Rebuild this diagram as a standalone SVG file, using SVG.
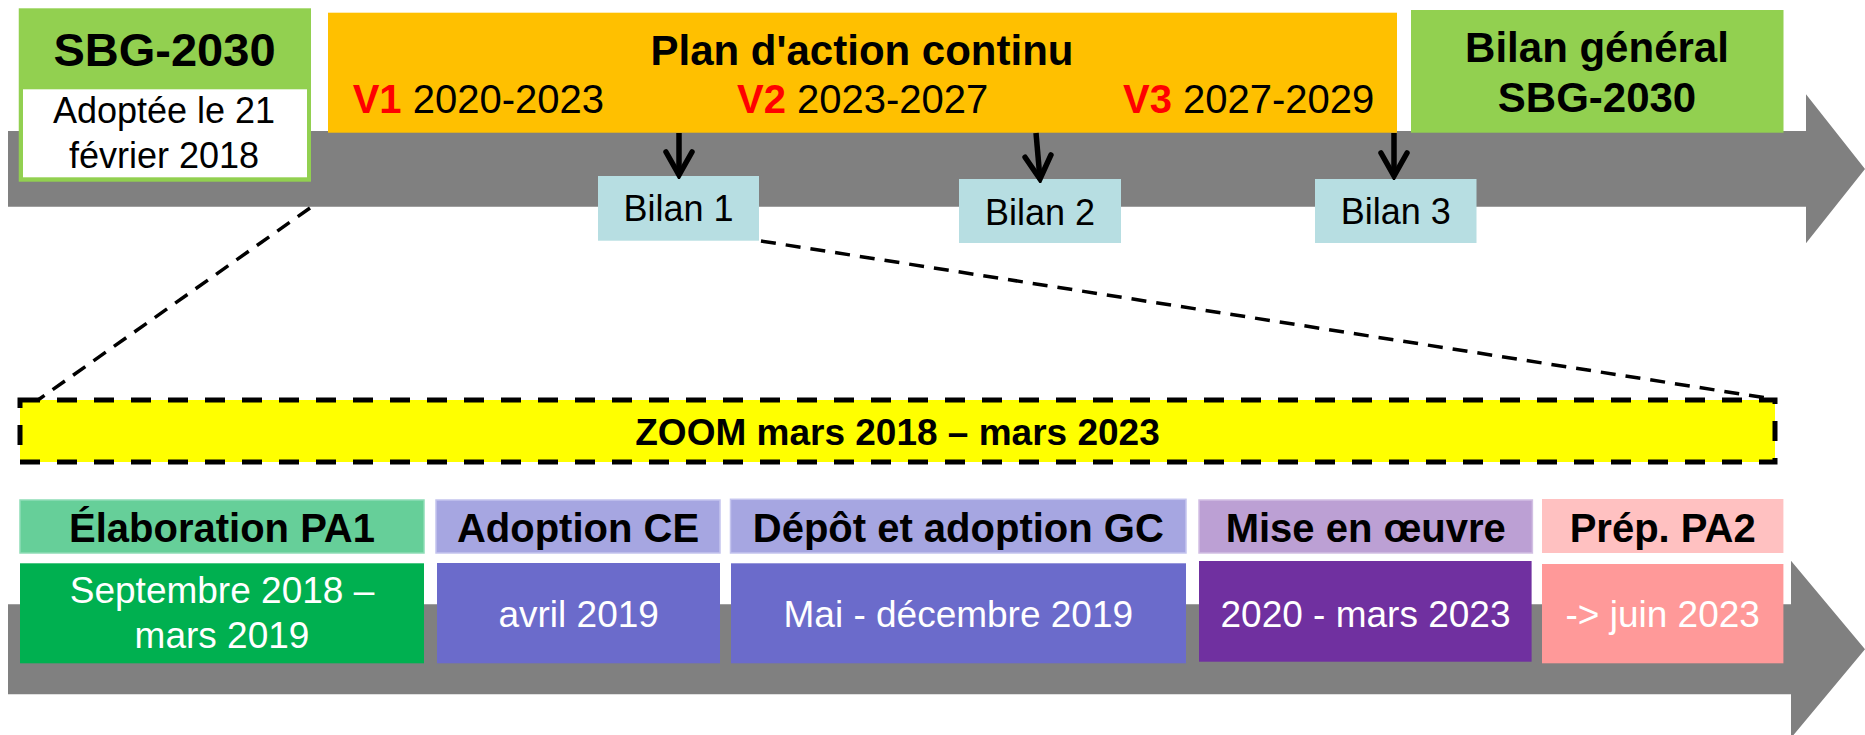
<svg xmlns="http://www.w3.org/2000/svg" width="1865" height="735" viewBox="0 0 1865 735">
<defs>
<style>
text{font-family:"Liberation Sans",Arial,Helvetica,sans-serif}
.b{font-weight:bold}
.big{font-size:47px;font-weight:bold}
.h42{font-size:42px;font-weight:bold}
.v{font-size:40px}
.red{fill:#FF0000;font-weight:bold}
.n36{font-size:36px}
.hd{font-size:40px;font-weight:bold;fill:#000}
.dt{font-size:37px;fill:#fff}
.bar{fill:#808080}
.dash{fill:none;stroke:#000;stroke-width:3.5;stroke-dasharray:15 10}
.arr{fill:none;stroke:#000;stroke-width:5.5}
.hb{stroke-width:1.5}
</style>
<marker id="head" viewBox="0 0 32 32" refX="28" refY="16" markerWidth="32" markerHeight="32" markerUnits="userSpaceOnUse" orient="auto">
<path d="M5,3 L28,16 L5,29" fill="none" stroke="#000" stroke-width="5.5" stroke-linecap="round" stroke-linejoin="miter"/>
</marker>
</defs>
<rect width="1865" height="735" fill="#fff"/>

<g id="timeline-top">
<polygon class="bar" points="8,131 1806,131 1806,94.3 1865,169 1806,243.3 1806,206.7 8,206.7"/>
</g>
<g id="timeline-bottom">
<polygon class="bar" points="8,604.3 1791,604.3 1791,560.7 1865,649.3 1791,738 1791,694.3 8,694.3"/>
</g>

<g id="sbg2030">
<rect x="18.75" y="8.3" width="292.25" height="173.4" fill="#92D050"/>
<rect x="23" y="89.3" width="284" height="88" fill="#fff"/>
<text x="164.5" y="66" class="big" text-anchor="middle">SBG-2030</text>
<text x="164" y="123.3" class="n36" text-anchor="middle">Adoptée le 21</text>
<text x="164" y="168.3" class="n36" text-anchor="middle">février 2018</text>
</g>

<g id="plan-action">
<rect x="328" y="12.7" width="1069" height="120" fill="#FFC000"/>
<text x="862" y="65" class="h42" text-anchor="middle">Plan d'action continu</text>
<text x="352.7" y="113.3" class="v"><tspan class="red">V1</tspan> 2020-2023</text>
<text x="737" y="113.3" class="v"><tspan class="red">V2</tspan> 2023-2027</text>
<text x="1123" y="113.3" class="v"><tspan class="red">V3</tspan> 2027-2029</text>
</g>

<g id="bilan-general">
<rect x="1411" y="10" width="372.5" height="122.7" fill="#92D050"/>
<text x="1597" y="61.7" class="h42" text-anchor="middle">Bilan général</text>
<text x="1597" y="111.7" class="h42" text-anchor="middle">SBG-2030</text>
</g>

<g id="bilan1">
<rect x="598" y="176" width="161" height="64.7" fill="#B7DEE2"/>
<text x="678.5" y="221" class="n36" text-anchor="middle">Bilan 1</text>
</g>
<g id="bilan2">
<rect x="959" y="179" width="162" height="64" fill="#B7DEE2"/>
<text x="1040" y="225" class="n36" text-anchor="middle">Bilan 2</text>
</g>
<g id="bilan3">
<rect x="1315" y="179" width="161.5" height="64" fill="#B7DEE2"/>
<text x="1395.7" y="224" class="n36" text-anchor="middle">Bilan 3</text>
</g>

<g id="zoom">
<rect x="20" y="400" width="1755" height="62" fill="#FFFF00" stroke="#000" stroke-width="5" stroke-dasharray="20 17"/>
<text x="897.5" y="445" class="b" font-size="37" text-anchor="middle">ZOOM mars 2018 – mars 2023</text>
</g>

<g id="elaboration">
<rect x="20" y="500" width="404" height="53" fill="#66CF99" stroke="#8FDDB6" class="hb"/>
<text x="222" y="541.7" class="hd" text-anchor="middle">Élaboration PA1</text>
<rect x="20" y="563.3" width="404" height="100" fill="#00B050"/>
<text x="222" y="603.3" class="dt" text-anchor="middle">Septembre 2018 –</text>
<text x="222" y="648.3" class="dt" text-anchor="middle">mars 2019</text>
</g>

<g id="adoption-ce">
<rect x="436" y="500" width="284" height="53" fill="#A6A6E1" stroke="#C4C4EE" class="hb"/>
<text x="578" y="541.7" class="hd" text-anchor="middle">Adoption CE</text>
<rect x="437" y="563" width="283" height="100.3" fill="#6B6BCB"/>
<text x="578.7" y="626.7" class="dt" text-anchor="middle">avril 2019</text>
</g>

<g id="depot-gc">
<rect x="730.5" y="499.3" width="455.5" height="53.7" fill="#A6A6E1" stroke="#C4C4EE" class="hb"/>
<text x="958.3" y="541.7" class="hd" text-anchor="middle">Dépôt et adoption GC</text>
<rect x="731" y="563.3" width="455" height="100" fill="#6B6BCB"/>
<text x="958.3" y="626.7" class="dt" text-anchor="middle">Mai - décembre 2019</text>
</g>

<g id="mise-en-oeuvre">
<rect x="1199" y="500" width="333.4" height="53" fill="#BCA0D4" stroke="#D2BFE3" class="hb"/>
<text x="1365.7" y="541.7" class="hd" text-anchor="middle">Mise en œuvre</text>
<rect x="1199" y="561" width="332.6" height="100.7" fill="#7030A0"/>
<text x="1365.5" y="626.7" class="dt" text-anchor="middle">2020 - mars 2023</text>
</g>

<g id="prep-pa2">
<rect x="1542" y="499" width="241.4" height="54" fill="#FFC1C1"/>
<text x="1662.7" y="541.7" class="hd" text-anchor="middle">Prép. PA2</text>
<rect x="1542" y="564" width="241.4" height="99.3" fill="#FF9999"/>
<text x="1662.7" y="626.7" class="dt" text-anchor="middle">-&gt; juin 2023</text>
</g>

<g id="connectors">
<line class="arr" x1="679" y1="133" x2="679" y2="175" marker-end="url(#head)"/>
<line class="arr" x1="1036" y1="133" x2="1040" y2="179" marker-end="url(#head)"/>
<line class="arr" x1="1394" y1="133" x2="1394" y2="176" marker-end="url(#head)"/>
<line class="dash" x1="310" y1="208" x2="38" y2="400"/>
<line class="dash" x1="761" y1="241" x2="1773" y2="399"/>
</g>
</svg>
